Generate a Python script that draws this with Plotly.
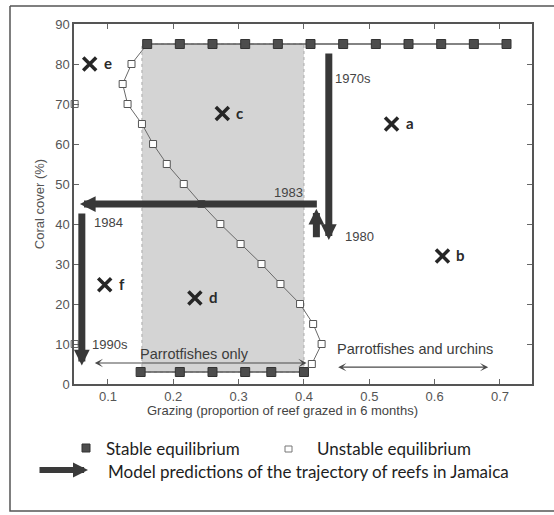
import plotly.graph_objects as go

# ---------------- data ----------------
stable_top_x = [0.16, 0.21, 0.26, 0.31, 0.36, 0.41, 0.46, 0.51, 0.56, 0.61, 0.66, 0.71]
stable_top_y = [85, 85, 85, 85, 85, 85, 85, 85, 85, 85, 85, 85]
stable_bot_x = [0.15, 0.21, 0.26, 0.31, 0.35, 0.40]
stable_bot_y = [3, 3, 3, 3, 3, 3]
unstable_x = [0.136, 0.1225, 0.130, 0.152, 0.169, 0.190, 0.216, 0.243, 0.272, 0.303,
              0.335, 0.364, 0.394, 0.414, 0.427, 0.412]
unstable_y = [80, 75, 70, 65, 60, 55, 50, 45, 40, 35, 30, 25, 20, 15, 10, 5]
edge_x = [0.049, 0.049]
edge_y = [70, 10]

point_labels = ["a", "b", "c", "d", "e", "f"]
point_x = [0.534, 0.612, 0.275, 0.233, 0.072, 0.095]
point_y = [65, 32, 67.6, 21.5, 80, 24.8]

# trajectory arrows: (tail_x, tail_y, tip_x, tip_y)
traj = [
    (0.438, 83.0, 0.438, 36.0),
    (0.419, 36.3, 0.419, 43.8),
    (0.422, 45.0, 0.057, 45.0),
    (0.060, 43.0, 0.060, 4.6),
]
year_labels = ["1970s", "1980", "1983", "1984", "1990s"]
year_x = [0.444, 0.459, 0.402, 0.075, 0.072]
year_y = [76.5, 37.0, 48.0, 40.3, 9.9]
year_anchor = ["left", "left", "right", "left", "left"]

shade_x = [0.152, 0.40]
shade_y = [3, 85]

x_ticks = [0.1, 0.2, 0.3, 0.4, 0.5, 0.6, 0.7]
y_ticks = [0, 10, 20, 30, 40, 50, 60, 70, 80, 90]

# ---------------- layout geometry ----------------
L, R, T, B = 74, 532, 24, 384
W, H = 554, 515


def px(xp):
    return (xp - L) / (R - L)


def py(yp):
    return (B - yp) / (B - T)


fig = go.Figure()

# connecting curve
fig.add_trace(go.Scatter(
    x=[stable_top_x[0]] + unstable_x + [stable_bot_x[-1]],
    y=[stable_top_y[0]] + unstable_y + [stable_bot_y[-1]],
    mode="lines", line=dict(color="#6a6a6a", width=1), hoverinfo="skip"))
fig.add_trace(go.Scatter(x=stable_top_x, y=stable_top_y, mode="lines+markers",
                         line=dict(color="#5a5a5a", width=1.3),
                         marker=dict(symbol="square", size=9, color="#4d4d4d",
                                     line=dict(color="#333", width=1))))
fig.add_trace(go.Scatter(x=stable_bot_x, y=stable_bot_y, mode="lines+markers",
                         line=dict(color="#5a5a5a", width=1.3),
                         marker=dict(symbol="square", size=9, color="#4d4d4d",
                                     line=dict(color="#333", width=1))))
fig.add_trace(go.Scatter(x=unstable_x, y=unstable_y, mode="markers",
                         marker=dict(symbol="square", size=7, color="white",
                                     line=dict(color="#555", width=1))))
fig.add_trace(go.Scatter(x=edge_x, y=edge_y, mode="markers", cliponaxis=False,
                         marker=dict(symbol="square", size=7, color="rgba(255,255,255,0)",
                                     line=dict(color="#666", width=1))))
fig.add_trace(go.Scatter(x=point_x, y=point_y, mode="markers",
                         marker=dict(symbol="x-thin", size=13, color="#262626",
                                     line=dict(color="#262626", width=3.5))))

ann = []
for lab, x, y in zip(point_labels, point_x, point_y):
    ann.append(dict(x=x, y=y, xref="x", yref="y", text="<b>%s</b>" % lab,
                    showarrow=False, xanchor="left", xshift=12, yshift=1,
                    font=dict(family="Lato", size=15, color="#2a2a2a")))

for (tx, ty, hx, hy) in traj:
    ann.append(dict(x=hx, y=hy, ax=tx, ay=ty, xref="x", yref="y", axref="x", ayref="y",
                    text="", showarrow=True, arrowhead=2, arrowsize=0.45,
                    arrowwidth=7, arrowcolor="#383838"))

for lab, x, y, a in zip(year_labels, year_x, year_y, year_anchor):
    ann.append(dict(x=x, y=y, xref="x", yref="y", text=lab, showarrow=False,
                    xanchor=a, yanchor="middle",
                    font=dict(family="Liberation Sans", size=13, color="#444")))

# thin double arrows with text
thin = [(0.0775, 0.404, 5.25, "Parrotfishes only", 0.232, 7.6),
        (0.450, 0.682, 4.2, "Parrotfishes and urchins", 0.57, 8.7)]
for x0, x1, yy, txt, tx, ty in thin:
    ann.append(dict(x=x1, y=yy, ax=x0, ay=yy, xref="x", yref="y", axref="x", ayref="y",
                    text="", showarrow=True, arrowhead=3, arrowside="end+start",
                    arrowsize=1.15, arrowwidth=1.2, arrowcolor="#4a4a4a"))
    ann.append(dict(x=tx, y=ty, xref="x", yref="y", text=txt, showarrow=False,
                    xanchor="center", yanchor="middle",
                    font=dict(family="Liberation Sans", size=14.5, color="#3c3c3c")))

# x-axis title
ann.append(dict(x=px(282), y=py(410), xref="paper", yref="paper",
                xanchor="center", yanchor="middle",
                text="Grazing (proportion of reef grazed in 6 months)", showarrow=False,
                font=dict(family="Liberation Sans", size=13, color="#444")))
# legend texts
legend_font = dict(family="Lato", size=17, color="#1e1e1e")
ann.append(dict(x=px(104), y=py(448), xref="paper", yref="paper", xanchor="left",
                yanchor="middle", text="Stable equilibrium", showarrow=False, font=legend_font))
ann.append(dict(x=px(315), y=py(448), xref="paper", yref="paper", xanchor="left",
                yanchor="middle", text="Unstable equilibrium", showarrow=False, font=legend_font))
ann.append(dict(x=px(106), y=py(471), xref="paper", yref="paper", xanchor="left",
                yanchor="middle", text="Model predictions of the trajectory of reefs in Jamaica",
                showarrow=False, font=legend_font))
ann.append(dict(x=px(88), y=py(470), xref="paper", yref="paper", ax=-50, ay=0,
                text="", showarrow=True, arrowhead=2, arrowsize=0.5, arrowwidth=6,
                arrowcolor="#3a3a3a"))

# open frame (left, top, bottom)
fx0, fx1, fy0, fy1 = px(10), px(600), py(511), py(6)
frame_path = "M %f %f L %f %f M %f %f L %f %f L %f %f" % (
    fx1, fy1, fx0, fy1, fx0, fy1, fx0, fy0, fx1, fy0)

shapes = [
    dict(type="rect", xref="x", yref="y", x0=shade_x[0], x1=shade_x[1],
         y0=shade_y[0], y1=shade_y[1], fillcolor="#d4d4d4",
         line=dict(color="#aaaaaa", width=1, dash="dot"), layer="below"),
    dict(type="rect", xref="paper", yref="paper", x0=px(82), x1=px(90), y0=py(452), y1=py(444),
         fillcolor="#4d4d4d", line=dict(color="#333", width=1)),
    dict(type="rect", xref="paper", yref="paper", x0=px(285), x1=px(292), y0=py(452), y1=py(446),
         fillcolor="white", line=dict(color="#777", width=1)),
    dict(type="path", xref="paper", yref="paper", path=frame_path,
         line=dict(color="#555", width=1.5)),
]

axis_common = dict(showline=True, linecolor="#555", linewidth=1.5, mirror="ticks",
                   ticks="inside", ticklen=5, tickcolor="#666", tickwidth=1,
                   showgrid=False, zeroline=False,
                   tickfont=dict(family="Liberation Sans", size=13, color="#555"))

fig.update_layout(
    width=W, height=H, showlegend=False,
    margin=dict(l=L, r=W - R, t=T, b=H - B, pad=0),
    paper_bgcolor="white", plot_bgcolor="white",
    xaxis=dict(range=[0.048, 0.749], tickvals=x_ticks,
               ticktext=[str(v) for v in x_ticks], **axis_common),
    yaxis=dict(range=[0, 90], tickvals=y_ticks,
               title=dict(text="Coral cover (%)", standoff=8,
                          font=dict(family="Liberation Sans", size=13, color="#555")),
               **axis_common),
    annotations=ann, shapes=shapes,
)

fig.write_html("out.html")
